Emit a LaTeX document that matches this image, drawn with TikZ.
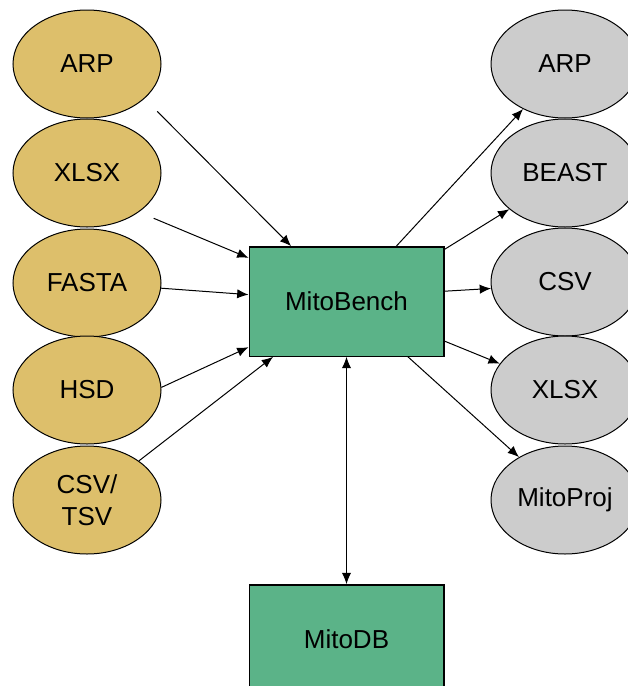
\documentclass[tikz,border=0pt]{standalone}
\usepackage{fontspec}
\setmainfont{Liberation Sans}
\usetikzlibrary{shapes.geometric,arrows.meta}
\definecolor{ingold}{RGB}{221,191,107}
\definecolor{outgray}{RGB}{204,204,204}
\definecolor{appgreen}{RGB}{91,179,136}
\tikzset{
  fmt/.style={ellipse,draw,line width=0.75pt,inner sep=0pt,
    minimum width=111pt,minimum height=81pt,align=center},
  infmt/.style={fmt,fill=ingold},
  outfmt/.style={fmt,fill=outgray},
  app/.style={rectangle,draw,line width=1pt,fill=appgreen,
    minimum width=146pt,minimum height=82pt},
  tip/.tip={Latex[length=8.5pt,width=7pt]}
}
\begin{document}
\begin{tikzpicture}[x=0.75pt,y=-0.75pt,
    font=\fontsize{19.5}{24}\selectfont]
      \useasboundingbox (0,0) rectangle (628,686);
      \clip (0,0) rectangle (628,686);
      \path
        (87,64) node[infmt] (inarp){ARP}
        (87,173) node[infmt] (inxlsx){XLSX}
        (87,283) node[infmt] (infasta){FASTA}
        (87,390) node[infmt] (inhsd){HSD}
        (87,500) node[infmt] (incsv){CSV/\\TSV}
        (565,64) node[outfmt] (outarp){ARP}
        (565,173) node[outfmt] (outbeast){BEAST}
        (565,282) node[outfmt] (outcsv){CSV}
        (565,390) node[outfmt] (outxlsx){XLSX}
        (565,500) node[outfmt] (outproj){MitoProj}
        (346.5,301.5) node[app] (bench){MitoBench}
        (346.5,639.5) node[app] (db){MitoDB};
      \begin{scope}[-tip,line width=0.75pt]
        \draw[shorten <=13.5pt] (inarp.-31.5) to (bench.135);
        \draw[shorten <=12pt] (inxlsx.-37) to (bench.156);
        \draw (infasta.-4) to (bench.176);
        \draw (inhsd.2) to (bench.205);
        \draw (incsv.37) to (bench.217);
        \draw (bench.48) to (outarp.227);
        \draw (bench.28) to (outbeast.213);
        \draw (bench.6) to (outcsv.185);
        \draw (bench.-22.5) to (outxlsx.158);
        \draw (bench.-42) to (outproj.137);
        \draw[tip-tip] (bench.south) to (db.north);
      \end{scope}
    \end{tikzpicture}
\end{document}
